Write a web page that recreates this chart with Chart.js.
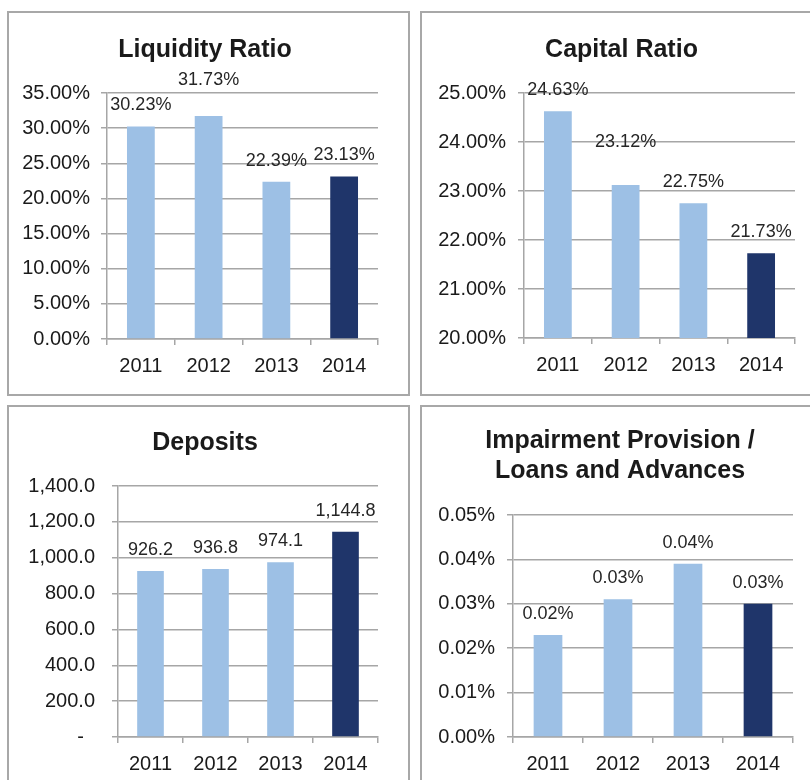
<!DOCTYPE html>
<html>
<head>
<meta charset="utf-8">
<script src="https://cdn.jsdelivr.net/npm/chart.js@4.4.1/dist/chart.umd.min.js"></script>
<style>
  body { margin: 0; background: #fff; width: 810px; height: 780px; overflow: hidden; position: relative; }
  .panel { position: absolute; border: 2px solid #a8a8a8; box-sizing: border-box; }
  canvas { position: absolute; }
</style>
</head>
<body>
<div class="panel" style="left:7px;top:11px;width:403px;height:385px"></div>
<div class="panel" style="left:420px;top:11px;width:410px;height:385px"></div>
<div class="panel" style="left:7px;top:405px;width:403px;height:400px"></div>
<div class="panel" style="left:420px;top:405px;width:410px;height:400px"></div>

<canvas id="liquidity" width="394" height="383" style="left:8px;top:12px"></canvas>
<canvas id="capital" width="401" height="383" style="left:421px;top:12px"></canvas>
<canvas id="deposits" width="394" height="374" style="left:8px;top:406px"></canvas>
<canvas id="impairment" width="398" height="374" style="left:421px;top:406px"></canvas>

<script>
const years = ['2011', '2012', '2013', '2014'];
const liquidityRatio = [30.23, 31.73, 22.39, 23.13];   // %
const capitalRatio = [24.63, 23.12, 22.75, 21.73];     // %
const deposits = [926.2, 936.8, 974.1, 1144.8];
const impairmentRatio = [0.023, 0.031, 0.039, 0.030];  // %

const lightBlue = '#9dc0e5';
const navy = '#1f356a';
const gridGrey = '#a6a6a6';
const fontFamily = '"Liberation Sans", Arial, Helvetica, sans-serif';

const pct = v => v.toFixed(2) + '%';
const money = v => v.toLocaleString('en-US', { minimumFractionDigits: 1, maximumFractionDigits: 1 });

function makeChart(id, p) {
  const canvas = document.getElementById(id);
  const W = canvas.width, H = canvas.height;

  // value labels above the bars
  const barLabels = {
    id: 'barLabels',
    afterDatasetsDraw(chart) {
      const c = chart.ctx;
      const meta = chart.getDatasetMeta(0);
      c.save();
      c.font = '18px ' + fontFamily;
      c.fillStyle = '#262626';
      c.textAlign = 'center';
      c.textBaseline = 'middle';
      meta.data.forEach((bar, i) => {
        const extra = p.lift ? p.lift[i] : 0;
        c.fillText(p.labelFmt(p.values[i]), bar.x, bar.y - 21 - extra);
      });
      c.restore();
    }
  };

  return new Chart(canvas.getContext('2d'), {
    type: 'bar',
    data: {
      labels: years,
      datasets: [{
        data: p.values,
        backgroundColor: years.map((y, i) => i === years.length - 1 ? navy : lightBlue),
        barPercentage: 0.41,
        categoryPercentage: 1.0
      }]
    },
    options: {
      responsive: false,
      animation: false,
      layout: { padding: 0 },
      plugins: {
        legend: { display: false },
        tooltip: { enabled: false },
        title: {
          display: true,
          text: p.title,
          color: '#1a1a1a',
          font: { family: fontFamily, size: 25, weight: 'bold', lineHeight: 1.2 },
          padding: p.titlePad
        }
      },
      scales: {
        x: {
          grid: {
            offset: true,
            drawOnChartArea: false,
            drawTicks: true,
            tickLength: 6,
            color: gridGrey,
            lineWidth: 1.5
          },
          border: { display: true, color: gridGrey, width: 1.5 },
          ticks: {
            color: '#1a1a1a',
            font: { family: fontFamily, size: 20 },
            padding: 9,
            maxRotation: 0
          },
          afterFit(scale) { scale.height = H - p.plot.bottom; }
        },
        y: {
          min: p.min,
          max: p.max,
          grid: { color: gridGrey, lineWidth: 1.5, tickLength: 6 },
          border: { display: true, color: gridGrey, width: 1.5 },
          ticks: {
            stepSize: p.step,
            color: '#1a1a1a',
            font: { family: fontFamily, size: 20 },
            padding: p.tickPad,
            callback: p.tickFmt
          },
          afterFit(scale) { scale.width = p.plot.left; }
        },
        // empty right-hand spacer so the plot stops short of the frame
        spacer: {
          type: 'linear',
          position: 'right',
          grid: { display: false },
          border: { display: false },
          ticks: { display: false },
          afterFit(scale) { scale.width = W - p.plot.right; }
        }
      }
    },
    plugins: [barLabels]
  });
}

makeChart('liquidity', {
  title: 'Liquidity Ratio',
  titlePad: { top: 23, bottom: 28 },
  values: liquidityRatio,
  min: 0, max: 35, step: 5,
  tickFmt: v => pct(v),
  labelFmt: pct,
  tickPad: 11,
  lift: [0, 15, 0, 0],
  plot: { left: 99, right: 370, bottom: 327 }
});

makeChart('capital', {
  title: 'Capital Ratio',
  titlePad: { top: 23, bottom: 28 },
  values: capitalRatio,
  min: 20, max: 25, step: 1,
  tickFmt: v => pct(v),
  labelFmt: pct,
  tickPad: 12,
  lift: [0, 22, 0, 0],
  plot: { left: 103, right: 374, bottom: 326 }
});

makeChart('deposits', {
  title: 'Deposits',
  titlePad: { top: 22, bottom: 28 },
  values: deposits,
  min: 0, max: 1400, step: 200,
  tickFmt: v => v === 0 ? '-  ' : money(v),
  labelFmt: money,
  tickPad: 17,
  plot: { left: 110, right: 370, bottom: 331 }
});

makeChart('impairment', {
  title: ['Impairment Provision /', 'Loans and Advances'],
  titlePad: { top: 20, bottom: 29 },
  values: impairmentRatio,
  min: 0, max: 0.05, step: 0.01,
  tickFmt: v => pct(v),
  labelFmt: pct,
  tickPad: 12,
  plot: { left: 92, right: 372, bottom: 331 }
});
</script>
</body>
</html>
